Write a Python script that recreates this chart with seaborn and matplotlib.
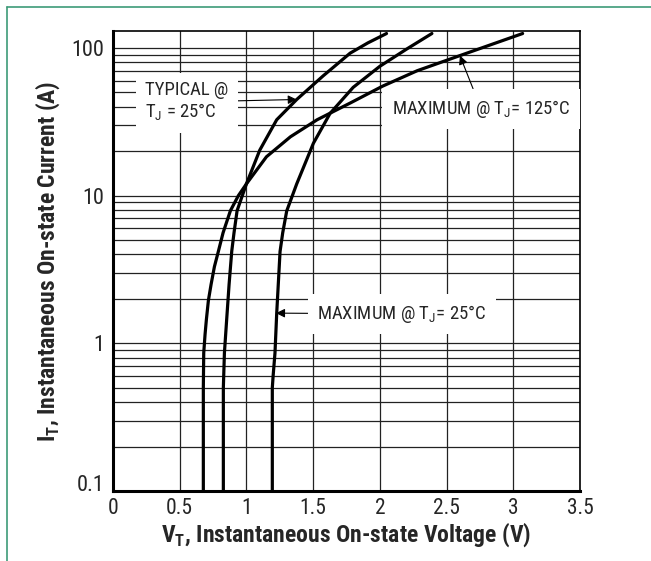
import numpy as np
import pandas as pd
import matplotlib
matplotlib.use("Agg")
import matplotlib.pyplot as plt
from matplotlib.lines import Line2D
from matplotlib.transforms import ScaledTranslation
from matplotlib.ticker import LogLocator, NullFormatter
import seaborn as sns

v_typ_25 = [0.827, 0.827, 0.835, 0.852, 0.87, 0.89, 0.907, 0.93, 1.0, 1.10, 1.227, 1.377, 1.575, 1.777, 1.91, 2.05]
i_typ_25 = [0.09, 0.5, 0.86, 1.45, 2.5, 4.2, 5.6, 7.9, 12.0, 20.3, 32.6, 44.7, 64.6, 92.0, 108.0, 125]

v_max_25 = [1.194, 1.194, 1.20, 1.214, 1.227, 1.252, 1.272, 1.302, 1.377, 1.502, 1.627, 1.80, 2.0, 2.20, 2.39]
i_max_25 = [0.09, 0.5, 0.6, 0.86, 1.6, 4.18, 5.6, 7.87, 12.0, 22.6, 36.0, 54.0, 75.0, 98.0, 125]

v_max_125 = [0.677, 0.677, 0.68, 0.69, 0.70, 0.715, 0.735, 0.76, 0.79, 0.825, 0.88, 0.94, 1.0, 1.15, 1.33, 1.53, 1.78, 2.02, 2.28, 2.60, 3.07]
i_max_125 = [0.09, 0.5, 0.86, 1.15, 1.45, 1.95, 2.5, 3.3, 4.2, 5.6, 7.9, 10.0, 12.0, 18.3, 25.0, 32.6, 42.4, 55.0, 70.0, 88.6, 125]

x_ticks = [0, 0.5, 1, 1.5, 2, 2.5, 3, 3.5]
x_tick_labels = ["0", "0.5", "1", "1.5", "2", "2.5", "3", "3.5"]
y_ticks = [0.1, 1, 10, 100]
y_tick_labels = ["0.1", "1", "10", "100"]

df = pd.concat([
    pd.DataFrame({"V": v_typ_25, "I": i_typ_25, "curva": "typ25"}),
    pd.DataFrame({"V": v_max_25, "I": i_max_25, "curva": "max25"}),
    pd.DataFrame({"V": v_max_125, "I": i_max_125, "curva": "max125"}),
])

sns.set_style("white")
plt.rcParams["font.family"] = ["Roboto Condensed", "Liberation Sans Narrow", "Noto Sans", "DejaVu Sans"]
plt.rcParams["font.stretch"] = "condensed"
plt.rcParams["mathtext.fontset"] = "custom"
plt.rcParams["mathtext.rm"] = "Roboto Condensed"
plt.rcParams["mathtext.bf"] = "Roboto Condensed:weight=bold"

fig = plt.figure(figsize=(6.51, 5.61), dpi=100)
ax = fig.add_axes([113 / 651, 1 - 491 / 561, (580 - 113) / 651, (491 - 31) / 561])

ax.set_yscale("log")
ax.set_xlim(0, 3.5)
ax.set_ylim(0.1, 130)

sns.lineplot(data=df, x="V", y="I", hue="curva", estimator=None, sort=False,
             palette=["black"] * 3, linewidth=2.3, legend=False, ax=ax, zorder=3)

# GRELHA
ax.set_xticks(x_ticks)
ax.set_xticklabels(x_tick_labels, fontsize=15.5)
ax.set_yticks(y_ticks)
ax.set_yticklabels(y_tick_labels, fontsize=16)
ax.yaxis.set_minor_locator(LogLocator(base=10, subs=np.arange(2, 10)))
ax.yaxis.set_minor_formatter(NullFormatter())
ax.grid(True, which="both", axis="y", color="#222222", lw=0.9)
ax.grid(True, which="major", axis="x", color="#222222", lw=0.9)
ax.tick_params(which="both", length=0, pad=6)
ax.tick_params(axis="x", pad=5)

# 0.1 fica um pouco acima do eixo, como no original
lab = ax.get_yticklabels()[0]
lab.set_transform(lab.get_transform() + ScaledTranslation(0, 6 / 72, fig.dpi_scale_trans))

for s in ["left", "bottom"]:
    ax.spines[s].set_linewidth(2.2)
for s in ["top", "right"]:
    ax.spines[s].set_linewidth(1.2)
for s in ax.spines.values():
    s.set_color("black")

bold_font = dict(family=["Roboto Condensed", "Roboto", "DejaVu Sans"], weight="bold", size=17)
ax.set_xlabel("V$_\\mathbf{T}$, Instantaneous On-state Voltage (V)", fontdict=bold_font, labelpad=1)
ax.set_ylabel("I$_\\mathbf{T}$, Instantaneous On-state Current (A)", fontdict=bold_font, labelpad=7)

box = dict(boxstyle="square,pad=0.5", fc="white", ec="none")
arrow = dict(arrowstyle="-|>", color="black", lw=0.8, mutation_scale=13, shrinkA=0, shrinkB=0)

ax.annotate("TYPICAL @\nT$_\\mathrm{J}$ = 25°C", xy=(1.377, 44.7), xytext=(0.24, 43.0),
            ha="left", va="center", fontsize=13.5, linespacing=1.2, bbox=box, arrowprops=arrow, zorder=4)
ax.annotate("MAXIMUM @ T$_\\mathrm{J}$= 125°C", xy=(2.60, 88.6), xytext=(2.09, 38.5),
            ha="left", va="center", fontsize=13.5, bbox=box, arrowprops=arrow, zorder=4)
ax.annotate("MAXIMUM @ T$_\\mathrm{J}$= 25°C", xy=(1.222, 1.6), xytext=(1.53, 1.58),
            ha="left", va="center", fontsize=13.5, bbox=box, arrowprops=arrow, zorder=4)

# MOLDURA VERDE
fig.add_artist(Line2D([7 / 651, 7 / 651], [0, 1 - 7 / 561], color="#3d9b78", lw=1.2))
fig.add_artist(Line2D([7 / 651, 1], [1 - 7 / 561, 1 - 7 / 561], color="#3d9b78", lw=1.2))

fig.savefig("out.png", dpi=100)
